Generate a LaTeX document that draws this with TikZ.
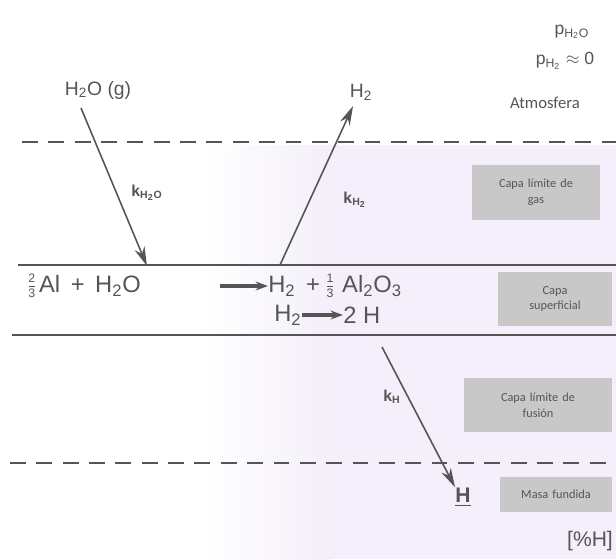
\documentclass[tikz,border=0pt]{standalone}
\usepackage{amsmath}
\usepackage{fontspec}
\setmainfont{Carlito}
\setsansfont{Liberation Sans}
\usetikzlibrary{arrows.meta}
\definecolor{lav}{RGB}{244,239,250}
\definecolor{boxgray}{RGB}{200,200,200}
\definecolor{ink}{RGB}{85,85,85}
\newcommand{\sub}[1]{\textsubscript{#1}}
\newcommand{\smallfrac}[2]{\raisebox{-2.8pt}{\vbox{\fontsize{7}{7}\selectfont\offinterlineskip\halign{\hfil##\hfil\cr #1\cr\noalign{\kern1.5pt}\rule{0.45em}{0.4pt}\cr\noalign{\kern1.5pt}#2\cr}}}}
\tikzset{
  layerbox/.style={fill=boxgray, draw=none, align=center, text=ink, font=\fontsize{7}{9}\selectfont, inner sep=0pt},
  dashline/.style={ink, line width=1.1pt, dash pattern=on 9pt off 6pt},
  solidline/.style={ink, line width=1.2pt},
  flux/.style={ink, line width=0.9pt, -{Stealth[length=11pt,width=6pt]}},
  react/.style={ink, line width=1.8pt, -{Stealth[length=7pt,width=5pt]}},
  lbl/.style={text=ink, inner sep=0pt},
  chem/.style={text=ink, inner sep=0pt, font=\sffamily\fontsize{13.5}{15}\selectfont},
}
\begin{document}
\begin{tikzpicture}[x=0.02cm, y=-0.02cm]
\useasboundingbox (0,0) rectangle (616,559);
% background tint
\shade[left color=white, right color=lav, draw=none] (200,145) rectangle (330,559);
\fill[lav] (330,145) rectangle (616,559);
% layer lines
\draw[dashline] (22,142) -- (616,142);
\draw[solidline] (18,265) -- (616,265);
\draw[solidline] (12,335) -- (616,335);
\draw[dashline] (10,463) -- (616,463);
% gray boxes
\node[layerbox, text width=118*0.02cm, minimum width=128*0.02cm, minimum height=55*0.02cm] (bgas) at (536,192) {Capa límite de\\gas};
\node[layerbox, text width=104*0.02cm, minimum width=114*0.02cm, minimum height=54*0.02cm] (bsup) at (555,299) {Capa\\superficial};
\node[layerbox, text width=138*0.02cm, minimum width=148*0.02cm, minimum height=54*0.02cm] (bfus) at (538,405) {Capa límite de\\fusión};
\node[layerbox, text width=102*0.02cm, minimum width=112*0.02cm, minimum height=35*0.02cm] (bmasa) at (556,494) {Masa fundida};
% top-right texts
\node[lbl, font=\sffamily\fontsize{10}{12}\selectfont] (pho) at (572,32) {p\textsubscript{H\textsubscript{2}O}};
\node[lbl, font=\sffamily\fontsize{10}{12}\selectfont] (ph2) at (565,61) {p\textsubscript{H\textsubscript{2}} $\approx$ 0};
\node[lbl, font=\fontsize{9.5}{11}\selectfont] (atm) at (545,103) {Atmosfera};
% species labels
\node[lbl, font=\sffamily\fontsize{11}{13}\selectfont] (h2og) at (98,90) {H\sub{2}O (g)};
\node[lbl, font=\sffamily\fontsize{11}{13}\selectfont] (h2top) at (361,92) {H\sub{2}};
% arrows
\coordinate (a1s) at (81,108);
\coordinate (a1e) at (147,266);
\coordinate (a2s) at (280,265);
\coordinate (a2e) at (353,106);
\node[lbl, font=\sffamily\bfseries\fontsize{12}{14}\selectfont] (hbar) at (463,497) {\underline{H}};
\coordinate (a3s) at (382,347);
\draw[flux] (a1s) -- (a1e);
\draw[flux] (a2s) -- (a2e);
\draw[flux] (a3s) -- (hbar.north west);
% rate constants
\node[lbl, font=\sffamily\bfseries\fontsize{9}{11}\selectfont] (k1) at (147,193) {k\textsubscript{H\textsubscript{2}O}};
\node[lbl, font=\sffamily\bfseries\fontsize{9}{11}\selectfont] (k2) at (355,200) {k\textsubscript{H\textsubscript{2}}};
\node[lbl, font=\sffamily\bfseries\fontsize{9}{11}\selectfont] (k3) at (392,397) {k\textsubscript{H}};
% reaction
\node[chem, anchor=west] (lhs) at (28,286) {\smallfrac{2}{3}\,Al \,+\, H\sub{2}O};
\node[chem, anchor=west] (rhs) at (268,286) {H\sub{2} \,+};
\node[chem, anchor=west] (frac) at ([xshift=6*0.02cm]rhs.east) {\smallfrac{1}{3}};
\node[chem, anchor=west] (rhsb) at ([xshift=8*0.02cm]frac.east) {Al\sub{2}O\sub{3}};
\node[chem, anchor=west] (h2b) at (274,315) {H\sub{2}};
\node[chem, anchor=west] (twoh) at (343,315) {2 H};
\draw[react] (220,286) -- (rhs.west);
\draw[react] (h2b.east) -- (twoh.west);
% bottom right
\node[lbl, font=\sffamily\fontsize{12}{14}\selectfont] (pch) at (590,541) {[\%H]};
\end{tikzpicture}
\end{document}
